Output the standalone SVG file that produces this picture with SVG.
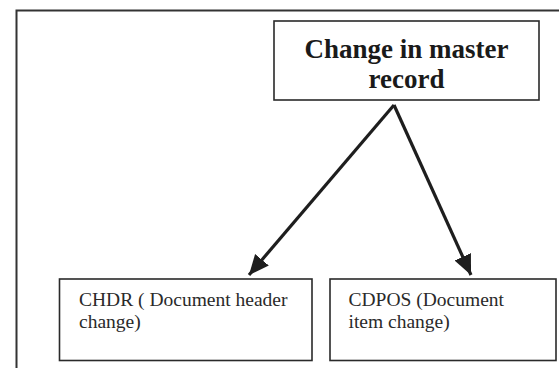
<svg xmlns="http://www.w3.org/2000/svg" width="559" height="368" viewBox="0 0 559 368">
  <style>
    .box { fill: #ffffff; stroke: #2a2a2a; stroke-width: 1.6; }
    .title { font-family: "Liberation Serif", "Times New Roman", serif; font-weight: bold; font-size: 27px; fill: #1a1a1a; text-anchor: middle; }
    .label { font-family: "Liberation Serif", "Times New Roman", serif; font-size: 19.5px; fill: #2a2a2a; }
    .edge { fill: none; stroke: #1e1e1e; stroke-width: 3.2; }
  </style>
  <defs>
    <marker id="arrow" markerUnits="userSpaceOnUse" markerWidth="24" markerHeight="24" refX="20" refY="11" orient="auto">
      <path d="M0,2 L20,11 L0,20 Z" fill="#1e1e1e"/>
    </marker>
  </defs>

  <rect width="559" height="368" fill="#ffffff"/>

  <!-- outer frame (open on the right and bottom) -->
  <path d="M16.5,368 V10.5 H559" fill="none" stroke="#333333" stroke-width="2"/>

  <g id="connectors">
    <path class="edge" d="M394,105 L249,275" marker-end="url(#arrow)"/>
    <path class="edge" d="M394,105 L471,275" marker-end="url(#arrow)"/>
  </g>

  <g id="master">
    <rect class="box" x="274" y="21" width="265" height="79"/>
    <text class="title" x="406.5" y="57.5">Change in master</text>
    <text class="title" x="406.5" y="87.5">record</text>
  </g>

  <g id="chdr">
    <rect class="box" x="59.5" y="279" width="252.5" height="81.5"/>
    <text class="label" x="79" y="305.5">CHDR ( Document header</text>
    <text class="label" x="79" y="328">change)</text>
  </g>

  <g id="cdpos">
    <rect class="box" x="330" y="279" width="226" height="81.5"/>
    <text class="label" x="348.5" y="305.5">CDPOS (Document</text>
    <text class="label" x="348.5" y="328">item change)</text>
  </g>
</svg>
